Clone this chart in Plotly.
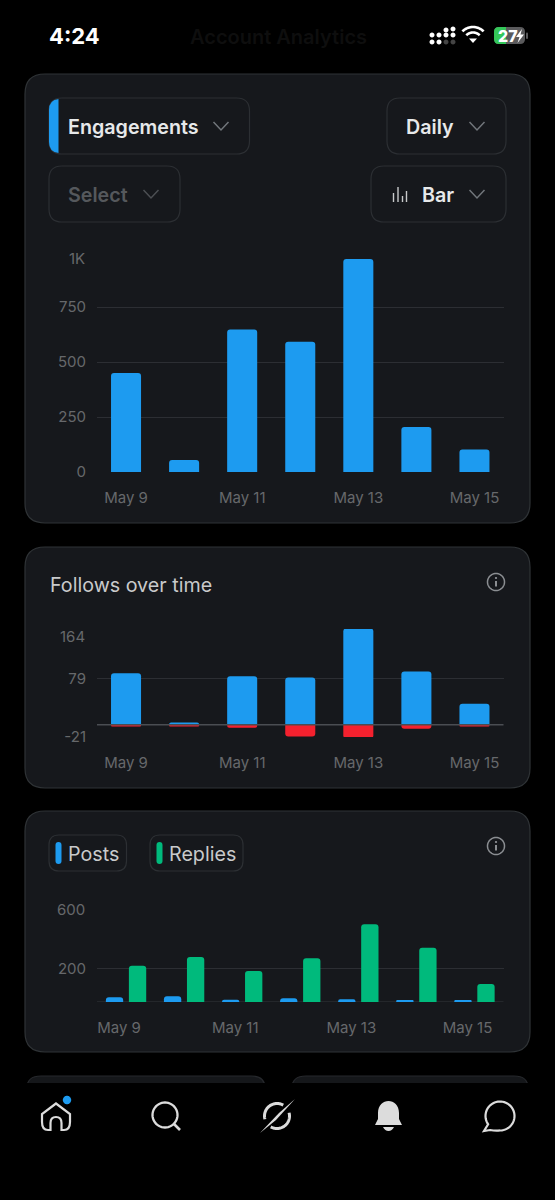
import math
import plotly.graph_objects as go

# ---------- data ----------
days = ["May 9", "May 10", "May 11", "May 12", "May 13", "May 14", "May 15"]
shown_days = ["May 9", "May 11", "May 13", "May 15"]
engagements = [450, 55, 648, 592, 968, 205, 102]
follows = [88, 4, 83, 81, 165, 91, 36]
unfollows = [-3, -3, -5, -20, -23, -7, -3]
posts = [28, 34, 14, 22, 16, 10, 7]
replies = [218, 270, 186, 262, 466, 326, 108]
eng_ticks = [0, 250, 500, 750, 1000]
eng_labels = ["0", "250", "500", "750", ""]
fol_ticks = [-21, 79, 164]
fol_labels = ["-21", "79", ""]
rep_ticks = [200, 600]
rep_labels = ["200", ""]

# ---------- style ----------
W, H = 555, 1200
BLUE, RED, GREEN = "#1d9bf0", "#f4212e", "#00ba7c"
CARD, EDGE = "#16181c", "#2f3336"
GRID, TICK = "#2c2e33", "#66686b"
FONT = "Inter, 'Noto Sans', sans-serif"
TICK_SIZE = 15

def px(x): return x / W
def py(y): return 1 - y / H
def P(x, y): return f"{px(x):.5f},{py(y):.5f}"

def rr_path(x0, y0, x1, y1, r):
    return (f"M{P(x0 + r, y0)} L{P(x1 - r, y0)} Q{P(x1, y0)} {P(x1, y0 + r)} "
            f"L{P(x1, y1 - r)} Q{P(x1, y1)} {P(x1 - r, y1)} L{P(x0 + r, y1)} "
            f"Q{P(x0, y1)} {P(x0, y1 - r)} L{P(x0, y0 + r)} Q{P(x0, y0)} {P(x0 + r, y0)} Z")

def arc_path(cx, cy, r, a0=0, a1=360, close=False, n=48):
    pts = [(cx + r * math.cos(math.radians(a0 + (a1 - a0) * i / n)),
            cy - r * math.sin(math.radians(a0 + (a1 - a0) * i / n))) for i in range(n + 1)]
    return "M" + " L".join(P(*p) for p in pts) + (" Z" if close else "")

def poly(points, close=False):
    return "M" + " L".join(P(*p) for p in points) + (" Z" if close else "")

shapes = []
def shape(path, fill="rgba(0,0,0,0)", line="rgba(0,0,0,0)", lw=0, layer="below"):
    shapes.append(dict(type="path", xref="paper", yref="paper", path=path,
                       fillcolor=fill, line=dict(color=line, width=lw), layer=layer))

annotations = []
def text(x, y, s, size=16, color="#e7e9ea", anchor="left", weight=400):
    annotations.append(dict(x=px(x), y=py(y), xref="paper", yref="paper", text=s,
                            showarrow=False, xanchor=anchor, yanchor="middle", borderpad=0,
                            font=dict(family=FONT, size=size, color=color, weight=weight)))

def chevron(cx, cy, color="#71767b"):
    shape(poly([(cx - 7.5, cy - 4), (cx, cy + 4), (cx + 7.5, cy - 4)]), line=color, lw=1.5)

def info(cx, cy):
    shape(arc_path(cx, cy, 8.5), line="#8b8e92", lw=1.5)
    shape(poly([(cx, cy - 1), (cx, cy + 4.5)]), line="#8b8e92", lw=2)
    shape(arc_path(cx, cy - 4, 1.1, close=True), fill="#8b8e92")

# ---------- cards ----------
for box in [(25, 74, 530, 523), (25, 547, 530, 788), (25, 811, 530, 1052)]:
    shape(rr_path(*box, 20), fill=CARD, line=EDGE, lw=1.2)
for x0, x1 in [(27, 265), (292, 528)]:
    shape(f"M{P(x0, 1084)} L{P(x0, 1088)} Q{P(x0, 1076)} {P(x0 + 14, 1076)} "
          f"L{P(x1 - 14, 1076)} Q{P(x1, 1076)} {P(x1, 1088)} L{P(x1, 1084)}",
          fill="#15171a", line="#26282c", lw=1.2)
shape(poly([(0, 1083), (W, 1083), (W, H), (0, H)], True), fill="#000000", layer="below")

# ---------- control pills ----------
for box in [(49, 98, 249.5, 154), (387, 98, 506, 154), (49, 166, 180, 222), (371, 166, 506, 222)]:
    shape(rr_path(*box, 13), fill=CARD, line="#2c2f33", lw=1.2)
shape(f"M{P(58.5, 99)} L{P(58.5, 153)} Q{P(49, 152)} {P(49, 142)} L{P(49, 110)} Q{P(49, 100)} {P(58.5, 99)} Z", fill=BLUE)
text(66.5, 126.5, "Engagements", 19.7, "#e7e9ea", weight=600)
text(404.5, 126.5, "Daily", 19.7, "#e7e9ea", weight=600)
text(66.5, 194.5, "Select", 19.7, "#55585c", weight=600)
text(420.5, 194.5, "Bar", 19.7, "#e7e9ea", weight=600)
chevron(221, 126); chevron(477, 126); chevron(151, 194, "#4c4f53"); chevron(477, 194)
for x, top in [(393.5, 193), (398, 187), (402.5, 196), (406.5, 191)]:
    shape(poly([(x, top), (x, 202)]), line="#c8c9ca", lw=1.4)

# ---------- card headings ----------
text(48.5, 585, "Follows over time", 19.7, "#c9cacb")
info(496, 582)
info(496, 846)
for box, tick_x, col, label, lx in [((49, 835, 126.5, 871), 58.5, BLUE, "Posts", 66.5),
                                    ((150, 835, 243, 871), 159.5, GREEN, "Replies", 167.5)]:
    shape(rr_path(*box, 10), fill=CARD, line="#2c2f33", lw=1.2)
    shape(rr_path(tick_x - 3, 842, tick_x + 3, 864, 3), fill=col)
    text(lx, 853.5, label, 19.7, "#c9cacb")

# ---------- status bar ----------
text(48, 36, "4:24", 22, "#ffffff", weight=700)
text(278, 37, "Account Analytics", 20, "#0e0e0e", anchor="center", weight=600)
for x, ys, col in [(432, (35, 42), "#fff"), (439, (35, 42), "#fff"), (446, (30, 35), "#fff"),
                   (453, (29, 35), "#fff")]:
    for y in ys:
        shape(arc_path(x, y, 2.5, close=True, n=16), fill=col)
for x, y in [(446, 42), (453, 42)]:
    shape(arc_path(x, y, 2.5, close=True, n=16), fill="#444444")
shape(arc_path(473, 42, 15, 45, 135), line="#ffffff", lw=2.6)
shape(arc_path(473, 42, 9.5, 45, 135), line="#ffffff", lw=2.6)
shape(poly([(473, 43), (469, 38.5), (477, 38.5)], True), fill="#ffffff")
shape(rr_path(494, 27, 525, 44, 5), fill="#5a5a5c")
shape(f"M{P(499, 27)} L{P(506, 27)} L{P(506, 44)} L{P(499, 44)} Q{P(494, 44)} {P(494, 39)} "
      f"L{P(494, 32)} Q{P(494, 27)} {P(499, 27)} Z", fill="#34c759")
text(508, 35.8, "27", 16, "#ffffff", anchor="center", weight=800)
shape(poly([(522, 29), (516, 37), (519.5, 37), (517.5, 43), (524, 34.5), (520.5, 34.5)], True), fill="#ffffff")
shape(rr_path(526, 32.5, 528, 39, 1), fill="#5a5a5c")

# ---------- nav icons ----------
ICON = "#dcdcdc"
shape(poly([(42, 1122), (42, 1114), (56, 1103.5), (70, 1114), (70, 1122)]) +
      f" Q{P(70, 1130)} {P(64, 1130)} L{P(61.5, 1130)} L{P(61.5, 1123)} Q{P(61.5, 1117)} {P(56, 1117)} "
      f"Q{P(50.5, 1117)} {P(50.5, 1123)} L{P(50.5, 1130)} L{P(48, 1130)} Q{P(42, 1130)} {P(42, 1122)} Z",
      line=ICON, lw=2.2)
shape(arc_path(67, 1100, 4.2, close=True), fill=BLUE)
shape(arc_path(165, 1115, 12.5), line=ICON, lw=2.3)
shape(poly([(174, 1124), (180, 1130)]), line=ICON, lw=2.6)
shape(arc_path(277, 1116, 12.5, 60, 195), line=ICON, lw=3)
shape(arc_path(277, 1116, 12.5, 240, 375), line=ICON, lw=3)
shape(poly([(295, 1099), (276, 1120), (260, 1133), (279, 1113)], True), fill=ICON)
shape(f"M{P(375, 1125)} L{P(378, 1119)} L{P(378, 1113)} C{P(378, 1097)} {P(399, 1097)} {P(399, 1113)} "
      f"L{P(399, 1119)} L{P(402, 1125)} Z", fill=ICON)
shape(f"M{P(383, 1127)} L{P(394, 1127)} Q{P(392, 1131)} {P(388.5, 1131)} Q{P(385, 1131)} {P(383, 1127)} Z", fill=ICON)
shape(arc_path(500, 1116, 14.5, -95, 215) + f" L{P(484, 1131)} L{P(490, 1130)} Q{P(495, 1131)} {P(500, 1130.5)}",
      line=ICON, lw=2.2)

# ---------- traces ----------
bar_w = 30 / 58
fig = go.Figure()
fig.add_bar(x=days, y=engagements, marker=dict(color=BLUE, cornerradius=3, line_width=0),
            width=bar_w, offset=-bar_w / 2, xaxis="x", yaxis="y", name="Engagements", cliponaxis=False)
fig.add_bar(x=days, y=follows, marker=dict(color=BLUE, cornerradius=3, line_width=0),
            width=bar_w, offset=-bar_w / 2, xaxis="x2", yaxis="y2", name="Follows", cliponaxis=False)
fig.add_bar(x=days, y=unfollows, marker=dict(color=RED, cornerradius=3, line_width=0),
            width=bar_w, offset=-bar_w / 2, xaxis="x2", yaxis="y2", name="Unfollows", cliponaxis=False)
rep_w, rep_step = 17.3 / 58, 11.5 / 58
fig.add_bar(x=days, y=posts, marker=dict(color=BLUE, cornerradius=3, line_width=0),
            width=rep_w, offset=-rep_step - rep_w / 2, xaxis="x3", yaxis="y3", name="Posts", cliponaxis=False)
fig.add_bar(x=days, y=replies, marker=dict(color=GREEN, cornerradius=3, line_width=0),
            width=rep_w, offset=rep_step - rep_w / 2, xaxis="x3", yaxis="y3", name="Replies", cliponaxis=False)

def xaxis(anchor, shift=0):
    return dict(domain=[px(97), px(503.5)], anchor=anchor, type="category", categoryorder="array",
                categoryarray=days, range=[-0.5, 6.5], tickmode="array", tickvals=shown_days,
                ticktext=shown_days, showgrid=False, zeroline=False, showline=False,
                ticks="outside", ticklen=12, tickcolor="rgba(0,0,0,0)", ticklabelshift=shift,
                tickfont=dict(family=FONT, size=TICK_SIZE, color=TICK))

def yaxis(anchor, top, bottom, rng, vals, labels):
    return dict(domain=[py(bottom), py(top)], anchor=anchor, range=rng, tickmode="array", tickvals=vals,
                ticktext=labels, showgrid=True, gridcolor=GRID, gridwidth=1.2, zeroline=False, showline=False,
                ticks="outside", ticklen=7, tickcolor="rgba(0,0,0,0)",
                tickfont=dict(family=FONT, size=TICK_SIZE, color=TICK))

for yref, val, label in [("y", 1000, "1K"), ("y2", 164, "164"), ("y3", 600, "600")]:
    annotations.append(dict(x=px(86), y=val, xref="paper", yref=yref, yshift=-7, text=label, showarrow=False,
                            xanchor="right", yanchor="middle", borderpad=0,
                            font=dict(family=FONT, size=TICK_SIZE, color=TICK)))

shapes.append(dict(type="line", xref="paper", yref="y2", x0=px(97), x1=px(503.5), y0=0, y1=0,
                   line=dict(color="#4a4d52", width=1.5), layer="above"))
shapes.append(dict(type="line", xref="paper", yref="y3", x0=px(97), x1=px(503.5), y0=0, y1=0,
                   line=dict(color="#33363a", width=1.2), layer="below"))

fig.update_layout(
    width=W, height=H, margin=dict(l=0, r=0, t=0, b=0, autoexpand=False), autosize=False,
    paper_bgcolor="#000000", plot_bgcolor="rgba(0,0,0,0)", showlegend=False, barmode="overlay",
    xaxis=xaxis("y"), yaxis=yaxis("x", 252, 472, [0, 1000], eng_ticks, eng_labels),
    xaxis2=xaxis("y2"), yaxis2=yaxis("x2", 629, 737, [-21, 164], fol_ticks, fol_labels),
    xaxis3=xaxis("y3", -7), yaxis3=yaxis("x3", 902, 1002, [0, 600], rep_ticks, rep_labels),
    shapes=shapes, annotations=annotations, font=dict(family=FONT),
)

fig.write_html("out.html", config=dict(displayModeBar=False),
               post_script="document.body.style.margin='0';document.body.style.background='#000';document.body.style.overflow='hidden';")
